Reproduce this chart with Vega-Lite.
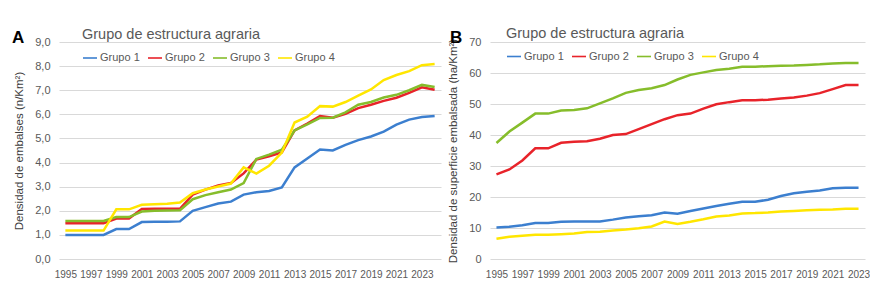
{
  "$schema": "https://vega.github.io/schema/vega-lite/v6.json",
  "padding": {"left": 12, "top": 27, "right": 0, "bottom": 0},
  "spacing": 6,
  "config": {
    "font": "Liberation Sans",
    "view": {"stroke": null},
    "axis": {"labelColor": "#595959", "titleColor": "#404040", "labelFont": "Liberation Sans", "titleFont": "Liberation Sans", "titleFontWeight": "normal", "ticks": false, "domain": false, "grid": false},
    "axisY": {"grid": true, "gridColor": "#d9d9d9", "gridWidth": 1.2, "labelFontSize": 11, "labelPadding": 9, "titleFontSize": 11.5, "titlePadding": 10},
    "axisX": {"labelFontSize": 10, "labelPadding": 10, "labelFlush": false},
    "legend": {"orient": "none", "direction": "horizontal", "symbolType": "stroke", "symbolSize": 196, "symbolStrokeWidth": 1.6, "labelFontSize": 11, "labelColor": "#595959", "labelFont": "Liberation Sans", "titleFont": "Liberation Sans", "titleFontSize": 14.5, "titleColor": "#595959", "titleFontWeight": "normal", "titleLimit": 0, "labelLimit": 0, "columnPadding": 4, "labelOffset": 2},
    "title": {"font": "Liberation Sans", "fontSize": 17, "fontWeight": "bold", "color": "#000000", "anchor": "start", "frame": "group", "offset": 0}
  },
  "datasets": {
    "a": [
      {"year": 1995, "Grupo 1": 1.00, "Grupo 2": 1.48, "Grupo 3": 1.58, "Grupo 4": 1.18},
      {"year": 1996, "Grupo 1": 1.00, "Grupo 2": 1.48, "Grupo 3": 1.58, "Grupo 4": 1.18},
      {"year": 1997, "Grupo 1": 1.00, "Grupo 2": 1.48, "Grupo 3": 1.58, "Grupo 4": 1.18},
      {"year": 1998, "Grupo 1": 1.00, "Grupo 2": 1.48, "Grupo 3": 1.58, "Grupo 4": 1.18},
      {"year": 1999, "Grupo 1": 1.24, "Grupo 2": 1.68, "Grupo 3": 1.74, "Grupo 4": 2.06},
      {"year": 2000, "Grupo 1": 1.24, "Grupo 2": 1.68, "Grupo 3": 1.74, "Grupo 4": 2.06},
      {"year": 2001, "Grupo 1": 1.53, "Grupo 2": 2.07, "Grupo 3": 1.97, "Grupo 4": 2.25},
      {"year": 2002, "Grupo 1": 1.54, "Grupo 2": 2.08, "Grupo 3": 2.00, "Grupo 4": 2.27},
      {"year": 2003, "Grupo 1": 1.54, "Grupo 2": 2.08, "Grupo 3": 2.01, "Grupo 4": 2.29},
      {"year": 2004, "Grupo 1": 1.56, "Grupo 2": 2.08, "Grupo 3": 2.02, "Grupo 4": 2.34},
      {"year": 2005, "Grupo 1": 2.00, "Grupo 2": 2.67, "Grupo 3": 2.48, "Grupo 4": 2.73},
      {"year": 2006, "Grupo 1": 2.15, "Grupo 2": 2.88, "Grupo 3": 2.65, "Grupo 4": 2.88},
      {"year": 2007, "Grupo 1": 2.30, "Grupo 2": 3.05, "Grupo 3": 2.77, "Grupo 4": 3.01},
      {"year": 2008, "Grupo 1": 2.38, "Grupo 2": 3.15, "Grupo 3": 2.88, "Grupo 4": 3.13},
      {"year": 2009, "Grupo 1": 2.67, "Grupo 2": 3.55, "Grupo 3": 3.15, "Grupo 4": 3.80},
      {"year": 2010, "Grupo 1": 2.77, "Grupo 2": 4.12, "Grupo 3": 4.15, "Grupo 4": 3.54},
      {"year": 2011, "Grupo 1": 2.82, "Grupo 2": 4.26, "Grupo 3": 4.33, "Grupo 4": 3.87},
      {"year": 2012, "Grupo 1": 2.97, "Grupo 2": 4.42, "Grupo 3": 4.53, "Grupo 4": 4.41},
      {"year": 2013, "Grupo 1": 3.80, "Grupo 2": 5.33, "Grupo 3": 5.33, "Grupo 4": 5.66},
      {"year": 2014, "Grupo 1": 4.17, "Grupo 2": 5.62, "Grupo 3": 5.58, "Grupo 4": 5.90},
      {"year": 2015, "Grupo 1": 4.54, "Grupo 2": 5.93, "Grupo 3": 5.85, "Grupo 4": 6.34},
      {"year": 2016, "Grupo 1": 4.50, "Grupo 2": 5.86, "Grupo 3": 5.86, "Grupo 4": 6.32},
      {"year": 2017, "Grupo 1": 4.73, "Grupo 2": 6.02, "Grupo 3": 6.08, "Grupo 4": 6.51},
      {"year": 2018, "Grupo 1": 4.93, "Grupo 2": 6.26, "Grupo 3": 6.40, "Grupo 4": 6.78},
      {"year": 2019, "Grupo 1": 5.08, "Grupo 2": 6.40, "Grupo 3": 6.51, "Grupo 4": 7.03},
      {"year": 2020, "Grupo 1": 5.28, "Grupo 2": 6.56, "Grupo 3": 6.70, "Grupo 4": 7.42},
      {"year": 2021, "Grupo 1": 5.57, "Grupo 2": 6.69, "Grupo 3": 6.81, "Grupo 4": 7.63},
      {"year": 2022, "Grupo 1": 5.78, "Grupo 2": 6.89, "Grupo 3": 7.00, "Grupo 4": 7.79},
      {"year": 2023, "Grupo 1": 5.89, "Grupo 2": 7.12, "Grupo 3": 7.22, "Grupo 4": 8.04},
      {"year": 2024, "Grupo 1": 5.93, "Grupo 2": 7.02, "Grupo 3": 7.13, "Grupo 4": 8.09}
    ],
    "b": [
      {"year": 1995, "Grupo 1": 10.2, "Grupo 2": 27.3, "Grupo 3": 37.4, "Grupo 4": 6.5},
      {"year": 1996, "Grupo 1": 10.4, "Grupo 2": 28.9, "Grupo 3": 41.1, "Grupo 4": 7.2},
      {"year": 1997, "Grupo 1": 10.9, "Grupo 2": 31.8, "Grupo 3": 44.0, "Grupo 4": 7.5},
      {"year": 1998, "Grupo 1": 11.6, "Grupo 2": 35.7, "Grupo 3": 46.9, "Grupo 4": 7.8},
      {"year": 1999, "Grupo 1": 11.6, "Grupo 2": 35.7, "Grupo 3": 46.9, "Grupo 4": 7.8},
      {"year": 2000, "Grupo 1": 12.0, "Grupo 2": 37.5, "Grupo 3": 47.9, "Grupo 4": 8.0},
      {"year": 2001, "Grupo 1": 12.1, "Grupo 2": 37.8, "Grupo 3": 48.1, "Grupo 4": 8.2},
      {"year": 2002, "Grupo 1": 12.1, "Grupo 2": 38.0, "Grupo 3": 48.6, "Grupo 4": 8.7},
      {"year": 2003, "Grupo 1": 12.1, "Grupo 2": 38.8, "Grupo 3": 50.2, "Grupo 4": 8.8},
      {"year": 2004, "Grupo 1": 12.7, "Grupo 2": 40.0, "Grupo 3": 51.8, "Grupo 4": 9.2},
      {"year": 2005, "Grupo 1": 13.4, "Grupo 2": 40.3, "Grupo 3": 53.6, "Grupo 4": 9.5},
      {"year": 2006, "Grupo 1": 13.8, "Grupo 2": 41.9, "Grupo 3": 54.5, "Grupo 4": 9.9},
      {"year": 2007, "Grupo 1": 14.1, "Grupo 2": 43.5, "Grupo 3": 55.1, "Grupo 4": 10.5},
      {"year": 2008, "Grupo 1": 15.0, "Grupo 2": 45.1, "Grupo 3": 56.1, "Grupo 4": 12.1},
      {"year": 2009, "Grupo 1": 14.6, "Grupo 2": 46.4, "Grupo 3": 57.9, "Grupo 4": 11.3},
      {"year": 2010, "Grupo 1": 15.5, "Grupo 2": 46.9, "Grupo 3": 59.4, "Grupo 4": 12.0},
      {"year": 2011, "Grupo 1": 16.3, "Grupo 2": 48.5, "Grupo 3": 60.2, "Grupo 4": 12.8},
      {"year": 2012, "Grupo 1": 17.1, "Grupo 2": 49.9, "Grupo 3": 61.0, "Grupo 4": 13.7},
      {"year": 2013, "Grupo 1": 17.8, "Grupo 2": 50.6, "Grupo 3": 61.4, "Grupo 4": 14.0},
      {"year": 2014, "Grupo 1": 18.5, "Grupo 2": 51.2, "Grupo 3": 62.0, "Grupo 4": 14.7},
      {"year": 2015, "Grupo 1": 18.5, "Grupo 2": 51.2, "Grupo 3": 62.0, "Grupo 4": 14.8},
      {"year": 2016, "Grupo 1": 19.1, "Grupo 2": 51.4, "Grupo 3": 62.2, "Grupo 4": 15.0},
      {"year": 2017, "Grupo 1": 20.3, "Grupo 2": 51.8, "Grupo 3": 62.3, "Grupo 4": 15.3},
      {"year": 2018, "Grupo 1": 21.2, "Grupo 2": 52.1, "Grupo 3": 62.4, "Grupo 4": 15.5},
      {"year": 2019, "Grupo 1": 21.7, "Grupo 2": 52.7, "Grupo 3": 62.6, "Grupo 4": 15.7},
      {"year": 2020, "Grupo 1": 22.1, "Grupo 2": 53.5, "Grupo 3": 62.8, "Grupo 4": 15.9},
      {"year": 2021, "Grupo 1": 22.8, "Grupo 2": 54.8, "Grupo 3": 63.1, "Grupo 4": 16.0},
      {"year": 2022, "Grupo 1": 23.0, "Grupo 2": 56.1, "Grupo 3": 63.2, "Grupo 4": 16.2},
      {"year": 2023, "Grupo 1": 23.0, "Grupo 2": 56.1, "Grupo 3": 63.2, "Grupo 4": 16.2}
    ]
  },
  "hconcat": [
    {
      "width": 382,
      "height": 217,
      "title": {"text": "A", "dx": -47, "dy": 23},
      "data": {"name": "a"},
      "transform": [{"fold": ["Grupo 1", "Grupo 2", "Grupo 3", "Grupo 4"], "as": ["grupo", "v"]}],
      "mark": {"type": "line", "strokeWidth": 2.5},
      "encoding": {
        "x": {"field": "year", "type": "quantitative", "scale": {"domain": [1994.5, 2024.5], "nice": false, "zero": false},
              "axis": {"values": [1995, 1997, 1999, 2001, 2003, 2005, 2007, 2009, 2011, 2013, 2015, 2017, 2019, 2021, 2023], "format": "d", "title": null}},
        "y": {"field": "v", "type": "quantitative", "scale": {"domain": [0, 9], "nice": false},
              "axis": {"values": [0, 1, 2, 3, 4, 5, 6, 7, 8, 9], "labelExpr": "replace(format(datum.value, '.1f'), '.', ',')", "title": "Densidad de embalses  (n/Km²)"}},
        "color": {"field": "grupo", "type": "nominal",
                  "scale": {"domain": ["Grupo 1", "Grupo 2", "Grupo 3", "Grupo 4"], "range": ["#3c7fcf", "#e8232a", "#86bd2b", "#ffe600"]},
                  "legend": {"title": "Grupo de estructura agraria", "legendX": 23, "legendY": -14, "titlePadding": 7.5}}
      }
    },
    {
      "width": 375,
      "height": 217,
      "title": {"text": "B", "dx": -40, "dy": 24},
      "data": {"name": "b"},
      "transform": [{"fold": ["Grupo 1", "Grupo 2", "Grupo 3", "Grupo 4"], "as": ["grupo", "v"]}],
      "mark": {"type": "line", "strokeWidth": 2.5},
      "encoding": {
        "x": {"field": "year", "type": "quantitative", "scale": {"domain": [1994.5, 2023.5], "nice": false, "zero": false},
              "axis": {"values": [1995, 1997, 1999, 2001, 2003, 2005, 2007, 2009, 2011, 2013, 2015, 2017, 2019, 2021, 2023], "format": "d", "title": null}},
        "y": {"field": "v", "type": "quantitative", "scale": {"domain": [0, 70], "nice": false},
              "axis": {"values": [0, 10, 20, 30, 40, 50, 60, 70], "title": "Densidad de superficie embalsada (ha/Km²)"}},
        "color": {"field": "grupo", "type": "nominal",
                  "scale": {"domain": ["Grupo 1", "Grupo 2", "Grupo 3", "Grupo 4"], "range": ["#3c7fcf", "#e8232a", "#86bd2b", "#ffe600"]},
                  "legend": {"title": "Grupo de estructura agraria", "legendX": 16, "legendY": -15, "titlePadding": 7}}
      }
    }
  ],
  "resolve": {"scale": {"color": "independent"}, "legend": {"color": "independent"}}
}
